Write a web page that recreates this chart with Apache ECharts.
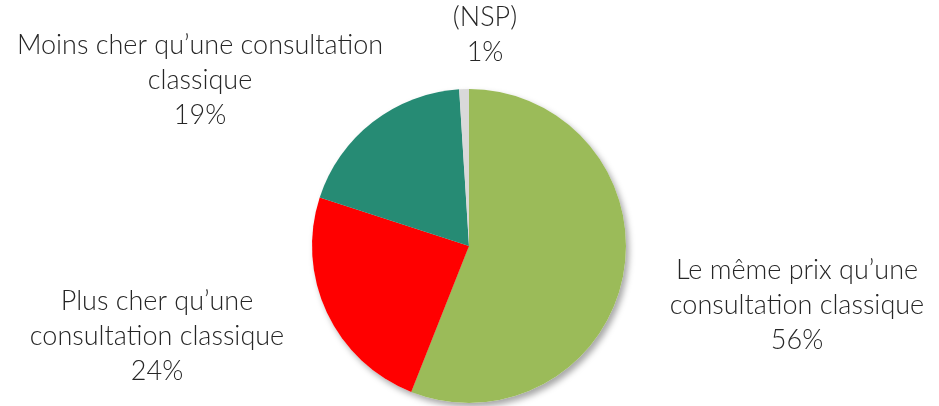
<!doctype html>
<html>
	<head>
		<meta charset="utf-8">
		<title>Prix consultation</title>
		<script src="https://cdn.jsdelivr.net/npm/echarts@6/dist/echarts.min.js"></script>
		<style>
			html, body { margin: 0; padding: 0; background: #fff; }
			#chart { width: 939px; height: 406px; }
		</style>
	</head>
	<body>
		<div id="chart"></div>
		<script type="text/javascript">
			// libellés des parts (ordre horaire depuis midi)
			var categories = [
				'Le même prix qu’une\nconsultation classique',
				'Plus cher qu’une\nconsultation classique',
				'Moins cher qu’une consultation\nclassique',
				'(NSP)'
			];
			var values = [56, 24, 19, 1];
			var colors = ['#9BBB59', '#FF0000', '#268B74', '#D9D9D9'];

			// position des étiquettes (centre du bloc de texte)
			var labelPos = [[797, 305], [157, 336], [200, 80], [485, 35]];

			var data = [];
			for (var i = 0; i < categories.length; i++) {
				data.push({ name: categories[i], value: values[i], itemStyle: { color: colors[i] } });
			}

			var chart = echarts.init(document.getElementById('chart'));
			chart.setOption({
				animation: false,
				series: [{
					// ombre portée derrière le camembert
					type: 'pie',
					silent: true,
					z: 1,
					center: [469, 246],
					radius: 157,
					startAngle: 90,
					data: values,
					label: { show: false },
					labelLine: { show: false },
					itemStyle: {
						color: '#fff',
						shadowBlur: 6,
						shadowOffsetX: 3,
						shadowOffsetY: 4,
						shadowColor: 'rgba(0,0,0,0.35)'
					}
				}, {
					type: 'pie',
					z: 2,
					center: [469, 246],
					radius: 157,
					startAngle: 90,
					data: data,
					itemStyle: { borderWidth: 0 },
					label: {
						show: true,
						position: 'outside',
						alignTo: 'none',
						overflow: 'none',
						formatter: '{b}\n{c}%',
						fontFamily: 'Lato',
						fontWeight: 300,
						fontSize: 27,
						lineHeight: 35,
						color: '#262626',
						align: 'center'
					},
					labelLine: { show: false },
					labelLayout: function (p) {
						var pos = labelPos[p.dataIndex];
						return { x: pos[0], y: pos[1], align: 'center', verticalAlign: 'middle' };
					}
				}]
			});
		</script>
	</body>
</html>
